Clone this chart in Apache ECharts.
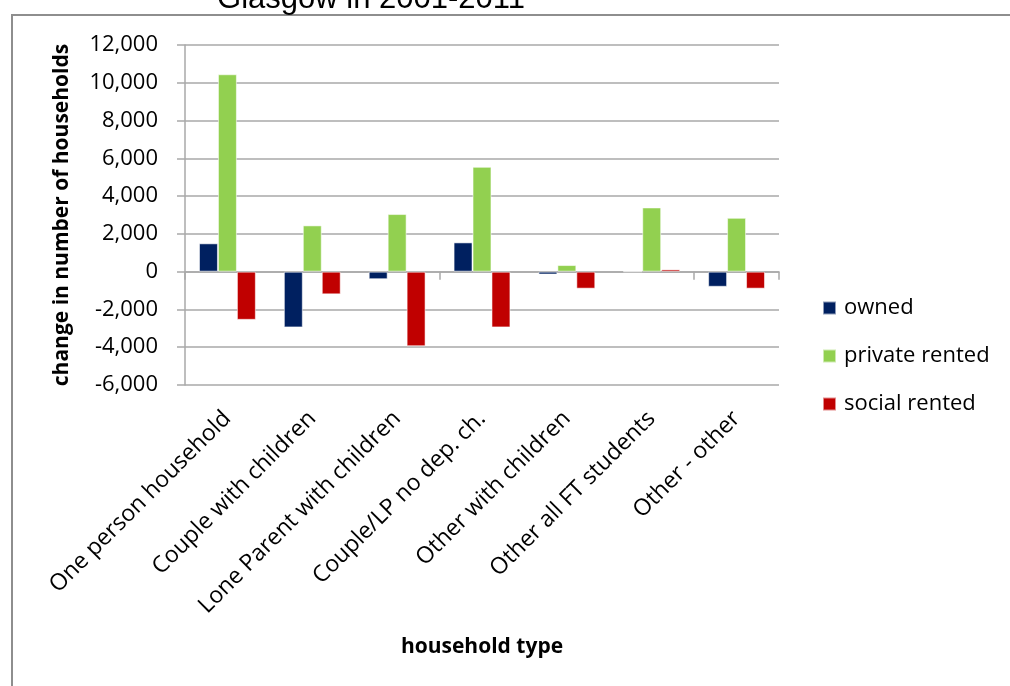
<!DOCTYPE html>
<html>
<head>
<meta charset="utf-8">
<script src="https://cdn.jsdelivr.net/npm/echarts@6/dist/echarts.min.js"></script>
<style>
  html, body { margin: 0; padding: 0; background: #ffffff; }
  #chart { width: 1010px; height: 686px; }
</style>
</head>
<body>
<div id="chart"></div>
<script>
// Household types on the category axis
const categories = [
  'One person household',
  'Couple with children',
  'Lone Parent with children',
  'Couple/LP no dep. ch.',
  'Other with children',
  'Other all FT students',
  'Other - other'
];

// Change in number of households by tenure
const owned         = [1500, -2950, -400, 1550, -150, 0, -800];
const privateRented = [10450, 2450, 3050, 5550, 350, 3400, 2850];
const socialRented  = [-2550, -1200, -3950, -2950, -900, 120, -900];

const seriesNames = ['owned', 'private rented', 'social rented'];
const yTicks = { min: -6000, max: 12000, step: 2000 };

const FONT = "'Open Sans', 'Noto Sans', sans-serif";
const GRID_COLOR = '#a9a9a9';

const chart = echarts.init(document.getElementById('chart'), null, { renderer: 'canvas' });

const barStyle = (color) => ({
  type: 'bar',
  xAxisIndex: 0,
  yAxisIndex: 0,
  barGap: '0%',
  barCategoryGap: '33%',
  itemStyle: { color: color, borderColor: 'rgba(255,255,255,0.55)', borderWidth: 1 }
});

chart.setOption({
  animation: false,
  backgroundColor: '#ffffff',
  graphic: [
    {
      type: 'rect',
      shape: { x: 12, y: 15, width: 1200, height: 900 },
      style: { fill: 'none', stroke: '#8e8e8e', lineWidth: 2 },
      silent: true
    },
    {
      type: 'text',
      x: 371,
      y: -1,
      style: {
        text: 'Glasgow in 2001-2011',
        font: "31px 'Liberation Sans', Arial, sans-serif",
        fill: '#000000',
        textAlign: 'center',
        textVerticalAlign: 'middle'
      },
      silent: true
    }
  ],
  grid: { left: 185, right: 231, top: 45, bottom: 301, containLabel: false },
  legend: {
    orient: 'vertical',
    left: 822,
    top: 297,
    padding: 0,
    itemWidth: 13,
    itemHeight: 13,
    itemGap: 26,
    icon: 'rect',
    data: seriesNames,
    textStyle: { fontFamily: FONT, fontSize: 22, color: '#000000', padding: [0, 0, 0, 3] }
  },
  xAxis: [
    {
      type: 'category',
      data: categories,
      axisLine: { onZero: true, lineStyle: { color: GRID_COLOR, width: 1.5 } },
      axisTick: { show: true, alignWithLabel: false, length: 8, lineStyle: { color: GRID_COLOR, width: 1.5 } },
      axisLabel: { show: false },
      splitLine: { show: false }
    },
    {
      type: 'category',
      data: categories,
      position: 'bottom',
      axisLine: { show: false, onZero: false },
      axisTick: { show: false },
      axisLabel: {
        show: true,
        interval: 0,
        rotate: 45,
        margin: 30,
        fontFamily: FONT,
        fontSize: 23,
        color: '#000000'
      },
      name: 'household type',
      nameLocation: 'middle',
      nameGap: 252,
      nameTextStyle: { fontFamily: FONT, fontSize: 21, fontWeight: 'bold', color: '#000000' }
    }
  ],
  yAxis: {
    type: 'value',
    min: yTicks.min,
    max: yTicks.max,
    interval: yTicks.step,
    axisLine: { show: true, lineStyle: { color: GRID_COLOR, width: 1.5 } },
    axisTick: { show: true, inside: false, length: 8, lineStyle: { color: GRID_COLOR, width: 1.5 } },
    splitLine: { show: true, lineStyle: { color: GRID_COLOR, width: 1.5 } },
    axisLabel: {
      margin: 27,
      fontFamily: FONT,
      fontSize: 22,
      color: '#000000',
      formatter: (v) => v.toLocaleString('en-US')
    },
    name: 'change in number of households',
    nameLocation: 'middle',
    nameGap: 112,
    nameTextStyle: { fontFamily: FONT, fontSize: 21, fontWeight: 'bold', color: '#000000' }
  },
  series: [
    Object.assign(barStyle('#002060'), { name: seriesNames[0], data: owned }),
    Object.assign(barStyle('#92D050'), { name: seriesNames[1], data: privateRented }),
    Object.assign(barStyle('#C00000'), { name: seriesNames[2], data: socialRented })
  ]
});
</script>
</body>
</html>
